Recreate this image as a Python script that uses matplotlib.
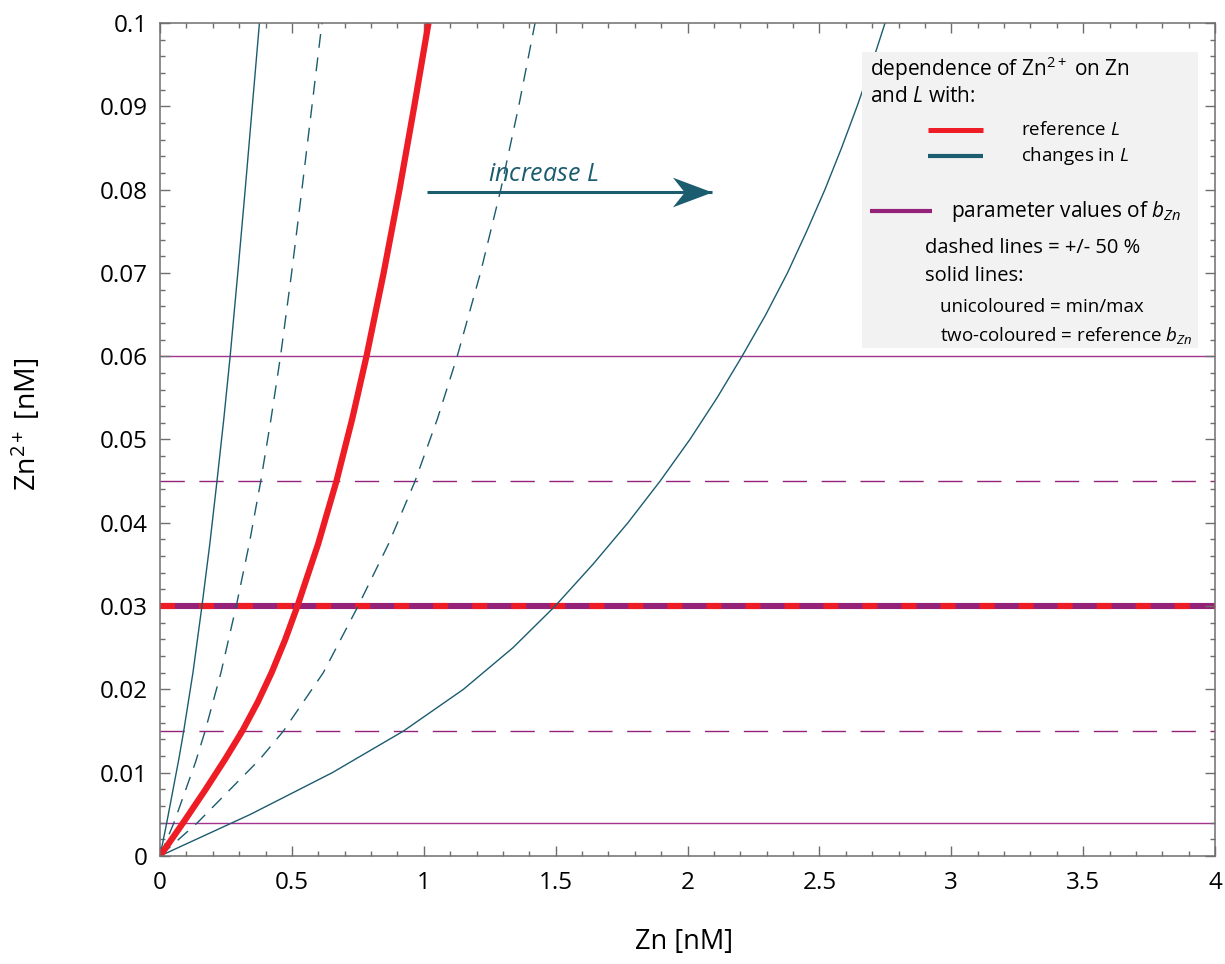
import numpy as np
import matplotlib
matplotlib.use("Agg")
import matplotlib.pyplot as plt
from matplotlib.path import Path
from matplotlib.patches import Rectangle
from matplotlib.lines import Line2D

plt.rcParams['font.family'] = ['Open Sans', 'DejaVu Sans']
plt.rcParams['mathtext.fontset'] = 'custom'
plt.rcParams['mathtext.rm'] = 'Open Sans'
plt.rcParams['mathtext.it'] = 'Open Sans:italic'
plt.rcParams['mathtext.bf'] = 'Open Sans:bold'
plt.rcParams['lines.scale_dashes'] = False

zn_l_min = [0, 0.0256, 0.0712, 0.0899, 0.1249, 0.159, 0.189, 0.216, 0.242, 0.266,
            0.295, 0.323, 0.350, 0.377]
zn2_l_min = [0, 0.004, 0.0116, 0.015, 0.022, 0.030, 0.0375, 0.045, 0.0525, 0.060,
             0.070, 0.080, 0.090, 0.100]

zn_l_low = [0, 0.053, 0.135, 0.171, 0.231, 0.289, 0.3385, 0.382, 0.421, 0.457,
            0.499, 0.538, 0.576, 0.614]
zn2_l_low = [0, 0.004, 0.0113, 0.015, 0.022, 0.030, 0.0375, 0.045, 0.0525, 0.060,
             0.070, 0.080, 0.090, 0.100]

zn_l_ref = [0, 0.088, 0.173, 0.2465, 0.312, 0.371, 0.423, 0.475, 0.521, 0.600,
            0.669, 0.729, 0.783, 0.848, 0.908, 0.964, 1.018]
zn2_l_ref = [0, 0.004, 0.008, 0.0116, 0.015, 0.0185, 0.022, 0.026, 0.030, 0.0375,
             0.045, 0.0525, 0.060, 0.070, 0.080, 0.090, 0.100]

zn_l_high = [0, 0.142, 0.378, 0.468, 0.619, 0.751, 0.867, 0.967, 1.052, 1.127,
             1.215, 1.292, 1.360, 1.422]
zn2_l_high = [0, 0.004, 0.0116, 0.015, 0.022, 0.030, 0.0375, 0.045, 0.0525, 0.060,
              0.070, 0.080, 0.090, 0.100]

zn_l_max = [0, 0.343, 0.653, 0.923, 1.150, 1.338, 1.498, 1.641, 1.774, 1.896, 2.009,
            2.112, 2.207, 2.297, 2.379, 2.452, 2.521, 2.584, 2.643, 2.698, 2.749]
zn2_l_max = [0, 0.005, 0.010, 0.015, 0.020, 0.025, 0.030, 0.035, 0.040, 0.045, 0.050,
             0.055, 0.060, 0.065, 0.070, 0.075, 0.080, 0.085, 0.090, 0.095, 0.100]

# b_Zn parameter values
b_zn_min, b_zn_max = 0.004, 0.06
b_zn_minus50, b_zn_plus50 = 0.015, 0.045
b_zn_ref = 0.03

x_ticks = [0, 0.5, 1, 1.5, 2, 2.5, 3, 3.5, 4]
x_ticklabels = ['0', '0.5', '1', '1.5', '2', '2.5', '3', '3.5', '4']
y_ticks = [0, 0.01, 0.02, 0.03, 0.04, 0.05, 0.06, 0.07, 0.08, 0.09, 0.1]
y_ticklabels = ['0', '0.01', '0.02', '0.03', '0.04', '0.05', '0.06', '0.07', '0.08', '0.09', '0.1']

arrow_x = [1.012, 2.093]
arrow_y = 0.0797

teal = '#1b5c6f'
red = '#ee1d25'
purple = '#952279'
magenta = '#a3338f'
spine_grey = '#6e6e6e'

W, H = 1225, 964
fig = plt.figure(figsize=(W / 100, H / 100), dpi=100)
ax = fig.add_axes([160 / W, 1 - 856 / H, 1055 / W, 833 / H])


def fxy(px, py):
    return px / W, 1 - py / H


# horizontal b_Zn lines
ax.axhline(b_zn_min, color=magenta, lw=1.0, zorder=1)
ax.axhline(b_zn_max, color=magenta, lw=1.0, zorder=1)
ax.axhline(b_zn_minus50, color=purple, lw=1.0, dashes=(17.5, 10.5), zorder=1)
ax.axhline(b_zn_plus50, color=purple, lw=1.0, dashes=(17.5, 10.5), zorder=1)
ax.axhline(b_zn_ref, color=purple, lw=4.4, zorder=1.5)
ax.axhline(b_zn_ref, color=red, lw=4.4, dashes=(10.8, 17.3), dash_capstyle='butt', zorder=1.6)

# Zn2+ curves
ax.plot(zn_l_min, zn2_l_min, color=teal, lw=1.0, zorder=2)
ax.plot(zn_l_low, zn2_l_low, color=teal, lw=1.0, dashes=(10, 7), zorder=2)
ax.plot(zn_l_ref, zn2_l_ref, color=red, lw=4.5, solid_capstyle='butt',
        solid_joinstyle='round', zorder=2.5)
ax.plot(zn_l_high, zn2_l_high, color=teal, lw=1.0, dashes=(10, 7), zorder=2)
ax.plot(zn_l_max, zn2_l_max, color=teal, lw=1.0, zorder=2)

# "increase L" arrow
head = Path([(0, 0), (-40, 15), (-28, 0), (-40, -15), (0, 0)],
            [Path.MOVETO, Path.LINETO, Path.LINETO, Path.LINETO, Path.CLOSEPOLY])
ax.plot(arrow_x, [arrow_y, arrow_y], color=teal, lw=2.2, solid_capstyle='butt', zorder=3)
ax.plot([arrow_x[1]], [arrow_y], marker=head, markersize=57, color=teal,
        markeredgewidth=0, zorder=3)
ax.text(1.245, 0.0818, 'increase $L$', color=teal, fontsize=18, style='italic',
        ha='left', va='center', zorder=3)

ax.set_xlim(0, 4)
ax.set_ylim(0, 0.1)
ax.set_xticks(x_ticks)
ax.set_xticklabels(x_ticklabels)
ax.set_yticks(y_ticks)
ax.set_yticklabels(y_ticklabels)
ax.set_xticks(np.arange(0, 4.001, 0.1), minor=True)
ax.set_yticks(np.arange(0, 0.1001, 0.002), minor=True)
ax.tick_params(which='both', direction='in', top=True, right=True,
               color=spine_grey, width=1.0)
ax.tick_params(which='major', length=7.5, labelsize=17.5, pad=9)
ax.tick_params(which='minor', length=3.8)
ax.tick_params(axis='x', which='major', pad=11)
for sp in ax.spines.values():
    sp.set_color(spine_grey)
    sp.set_linewidth(1.1)

fig.text(*fxy(684, 942), 'Zn [nM]', fontsize=19.5, ha='center', va='center')
fig.text(*fxy(27, 424), 'Zn$^{2+}$ [nM]', fontsize=20.5, ha='center', va='center',
         rotation=90)

# legend panel
x0, y0 = fxy(862, 348)
x1, y1 = fxy(1198, 52)
fig.add_artist(Rectangle((x0, y0), x1 - x0, y1 - y0, transform=fig.transFigure,
                         facecolor='#f2f2f2', edgecolor='none', zorder=1))


def legend_line(px0, px1, py, color, lw):
    a, b = fxy(px0, py)
    c, _ = fxy(px1, py)
    fig.add_artist(Line2D([a, c], [b, b], transform=fig.transFigure,
                          color=color, lw=lw, solid_capstyle='butt', zorder=2))


def legend_text(px, py, s, size):
    fig.text(*fxy(px, py), s, fontsize=size, ha='left', va='center', zorder=3)


legend_text(870, 69, 'dependence of Zn$^{2+}$ on Zn', 15)
legend_text(870, 97, 'and $L$ with:', 15)
legend_line(928, 983, 130, red, 3.6)
legend_text(1021, 130, 'reference $L$', 13.5)
legend_line(928, 983, 156, teal, 3.0)
legend_text(1021, 156, 'changes in $L$', 13.5)
legend_line(870, 932, 211, purple, 3.0)
legend_text(951, 212, 'parameter values of $b_{Zn}$', 15)
legend_text(925, 248, 'dashed lines = +/- 50 %', 14.5)
legend_text(925, 276, 'solid lines:', 14.5)
legend_text(940, 307, 'unicoloured = min/max', 13.5)
legend_text(940, 336, 'two-coloured = reference $b_{Zn}$', 13.5)

fig.savefig('out.png', dpi=100)
